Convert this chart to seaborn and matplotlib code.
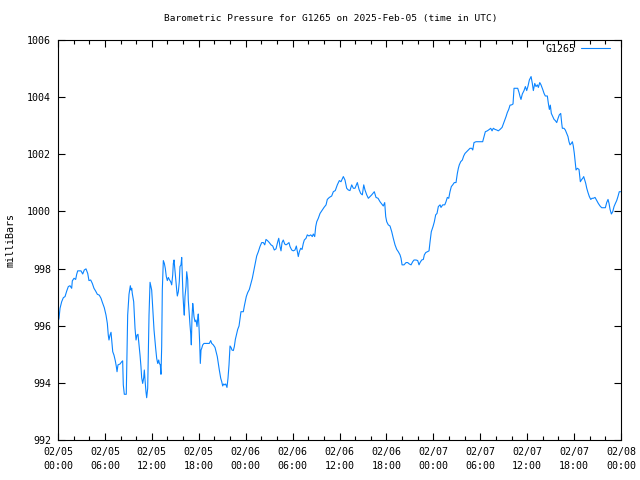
import matplotlib
matplotlib.use("Agg")
import matplotlib.pyplot as plt
import matplotlib.dates as mdates
import numpy as np
import pandas as pd
import seaborn as sns

# hours since 2025-02-05 00:00 UTC
hours = [
    0.04, 0.13, 0.26, 0.47, 0.68, 0.90, 1.11, 1.32, 1.53, 1.75, 1.83, 2.05, 2.26, 2.39, 2.52, 2.94,
    3.16, 3.36, 3.58, 3.80, 3.96, 4.18, 4.39, 4.60, 4.82, 5.03, 5.28, 5.50, 5.67, 5.92, 6.14, 6.31,
    6.43, 6.52, 6.65, 6.78, 6.87, 7.00, 7.16, 7.33, 7.46, 7.55, 7.67, 7.93, 8.15, 8.27, 8.35, 8.48,
    8.73, 8.82, 8.91, 9.08, 9.25, 9.34, 9.43, 9.50, 9.68, 9.76, 9.85, 9.98, 10.10, 10.23, 10.36,
    10.49, 10.61, 10.70, 10.83, 10.96, 11.04, 11.13, 11.25, 11.34, 11.47, 11.55, 11.64,
    11.77, 11.98, 12.11, 12.28, 12.49, 12.62, 12.75, 12.88, 12.96, 13.08, 13.17, 13.26, 13.34,
    13.47, 13.60, 13.72, 13.85, 13.98, 14.11, 14.23, 14.41, 14.54, 14.67, 14.75, 14.84, 14.93,
    15.05, 15.18, 15.26, 15.39, 15.51, 15.60, 15.73, 15.82, 15.90, 15.99, 16.08, 16.15, 16.24,
    16.37, 16.46, 16.59, 16.66, 16.79, 16.88, 16.97, 17.05, 17.14, 17.23, 17.30, 17.39, 17.52,
    17.65, 17.78, 17.87, 17.94, 18.03, 18.12, 18.20, 18.29, 18.38, 18.51, 18.67, 19.02, 19.35,
    19.53, 19.66, 19.86, 20.08, 20.21, 20.37, 20.50, 20.63, 20.81, 20.94, 21.06, 21.19, 21.32,
    21.45, 21.61, 21.74, 21.87, 22.00, 22.13, 22.25, 22.42, 22.55, 22.68, 22.85, 22.98, 23.15,
    23.28, 23.40, 23.70, 23.83, 23.95, 24.08, 24.26, 24.47,
    24.85, 24.97, 25.10, 25.28, 25.41, 25.62, 25.83, 26.05, 26.26, 26.44, 26.60, 26.82, 27.02,
    27.24, 27.46, 27.66, 27.88, 28.10, 28.23, 28.39, 28.52, 28.65, 28.81, 28.99, 29.16, 29.33,
    29.54, 29.67, 29.89, 30.09, 30.31, 30.48, 30.61, 30.73, 30.86, 31.04, 31.21, 31.37, 31.50,
    31.72, 31.88, 32.10, 32.32, 32.52, 32.65, 32.83, 32.96, 33.09, 33.29, 33.51, 33.76, 34.02,
    34.28, 34.44, 34.70, 35.00, 35.21, 35.46, 35.72, 35.98,
    36.19, 36.49, 36.70, 36.92, 37.13, 37.34, 37.56, 37.77, 37.98, 38.28, 38.50, 38.71, 38.92,
    39.10, 39.26, 39.48, 39.69, 39.90, 40.12, 40.45, 40.67, 40.93, 41.18, 41.40, 41.60, 41.78,
    41.91, 42.04, 42.24, 42.46, 42.68, 42.88, 43.10, 43.32, 43.52, 43.74, 43.87, 44.00, 44.25,
    44.51, 44.72, 44.93, 45.15, 45.36, 45.53, 45.79, 46.00, 46.17, 46.30, 46.51, 46.72, 46.85,
    47.03, 47.23, 47.45, 47.58, 47.74, 47.96, 48.13, 48.30, 48.47, 48.64, 48.86,
    48.98, 49.20, 49.46, 49.62, 49.79, 49.97, 50.13, 50.30, 50.48, 50.68, 50.90, 51.07, 51.20,
    51.32, 51.50, 51.71, 51.88, 52.05, 52.27, 52.47, 52.69, 52.91, 53.04, 53.20, 53.46, 53.75,
    54.06, 54.31, 54.48, 54.65, 54.90, 55.16, 55.34, 55.51, 55.67, 55.89, 56.11, 56.31, 56.53,
    56.79, 56.95, 57.13, 57.30, 57.46, 57.64, 57.81, 58.02, 58.19, 58.32, 58.57, 58.79, 58.96,
    59.09, 59.21, 59.38, 59.60, 59.77, 59.94, 60.11, 60.28,
    60.50, 60.66, 60.79, 60.97, 61.13, 61.30, 61.43, 61.61, 61.77, 61.99, 62.16, 62.32, 62.58,
    62.71, 62.84, 62.96, 63.09, 63.27, 63.44, 63.60, 63.78, 63.95, 64.11, 64.29, 64.42, 64.50,
    64.71, 64.88, 65.06, 65.22, 65.35, 65.48, 65.65, 65.78, 65.90, 66.03, 66.12, 66.25, 66.42,
    66.63, 66.80, 66.98, 67.11, 67.23, 67.36, 67.49, 67.62, 67.78, 67.95, 68.13, 68.30, 68.46,
    68.68, 68.90, 69.10, 69.32, 69.53, 69.83, 70.00, 70.17, 70.34, 70.47, 70.60, 70.77, 70.94,
    71.11, 71.28, 71.45, 71.61, 71.78, 71.96,
]

pressure = [
    996.17, 996.26, 996.61, 996.84, 996.98, 997.02, 997.21, 997.37, 997.40, 997.31, 997.57, 997.66, 997.62, 997.80, 997.92, 997.92,
    997.81, 997.95, 997.99, 997.83, 997.58, 997.60, 997.48, 997.31, 997.21, 997.10, 997.07, 996.96, 996.82, 996.63, 996.37, 996.08,
    995.67, 995.50, 995.67, 995.77, 995.50, 995.09, 994.97, 994.77, 994.57, 994.39, 994.63, 994.66, 994.74, 994.77, 993.93, 993.60,
    993.60, 994.92, 996.37, 997.10, 997.40, 997.25, 997.31, 997.13, 996.84, 996.43, 995.91, 995.50, 995.67, 995.70, 995.33,
    994.97, 994.57, 994.18, 993.98, 994.18, 994.45, 994.10, 993.69, 993.48, 993.81, 994.97, 996.37,
    997.52, 997.25, 996.67, 995.85, 995.21, 994.86, 994.68, 994.80, 994.68, 994.63, 994.30, 995.27, 997.25,
    998.28, 998.18, 998.01, 997.72, 997.58, 997.69, 997.62, 997.54, 997.43, 997.78, 998.18, 998.30, 998.01,
    997.66, 997.25, 997.04, 997.19, 997.54, 998.07, 998.13, 998.39, 997.72, 997.02, 996.61, 996.37, 997.02,
    997.37, 997.89, 997.60, 996.90, 996.37, 996.03, 995.73, 995.33, 996.32, 996.78, 996.61, 996.32, 996.14,
    996.20, 995.97, 996.26, 996.41, 995.97, 995.38, 994.68, 995.15, 995.21, 995.33, 995.38, 995.38, 995.38,
    995.48, 995.38, 995.33, 995.24, 995.09, 994.92, 994.68, 994.45, 994.16, 994.04, 993.89, 993.96, 993.93,
    993.96, 993.84, 994.16, 994.63, 995.29, 995.24, 995.15, 995.13, 995.27, 995.52, 995.71, 995.87, 995.99,
    996.26, 996.49, 996.49, 996.69, 996.84, 997.02, 997.16, 997.27,
    997.66, 997.83, 998.01, 998.28, 998.44, 998.59, 998.77, 998.91, 998.91, 998.83, 999.02, 998.97, 998.91,
    998.83, 998.79, 998.65, 998.69, 998.94, 999.06, 998.77, 998.62, 998.91, 999.00, 998.86, 998.83, 998.86,
    998.91, 998.77, 998.65, 998.62, 998.65, 998.79, 998.59, 998.42, 998.59, 998.71, 998.67, 998.88, 999.00,
    999.06, 999.18, 999.14, 999.18, 999.12, 999.21, 999.12, 999.47, 999.64, 999.76, 999.93, 1000.03, 1000.14,
    1000.23, 1000.42, 1000.49, 1000.54, 1000.69, 1000.73, 1000.93, 1001.08,
    1001.04, 1001.22, 1001.10, 1000.81, 1000.75, 1000.73, 1000.93, 1000.81, 1000.81, 1001.01, 1000.77, 1000.63, 1000.58,
    1000.93, 1000.75, 1000.58, 1000.46, 1000.52, 1000.58, 1000.69, 1000.49, 1000.46, 1000.34, 1000.26, 1000.19, 1000.31,
    999.82, 999.64, 999.53, 999.49, 999.29, 999.06, 998.83, 998.67, 998.59, 998.48, 998.36, 998.13, 998.13,
    998.21, 998.21, 998.16, 998.13, 998.24, 998.30, 998.30, 998.28, 998.13, 998.21, 998.30, 998.32, 998.48,
    998.56, 998.59, 998.62, 998.94, 999.29, 999.47, 999.64, 999.88, 999.93, 1000.17, 1000.23,
    1000.14, 1000.23, 1000.23, 1000.34, 1000.49, 1000.46, 1000.69, 1000.87, 1000.93, 1001.01, 1001.01, 1001.33, 1001.51,
    1001.63, 1001.74, 1001.80, 1001.94, 1002.03, 1002.09, 1002.15, 1002.21, 1002.21, 1002.15, 1002.41, 1002.44, 1002.44,
    1002.44, 1002.44, 1002.62, 1002.79, 1002.82, 1002.87, 1002.91, 1002.82, 1002.91, 1002.87, 1002.85, 1002.82, 1002.87,
    1002.94, 1003.06, 1003.20, 1003.32, 1003.46, 1003.57, 1003.72, 1003.73, 1003.76, 1004.31, 1004.31, 1004.31, 1004.16,
    1004.02, 1003.92, 1004.11, 1004.23, 1004.37, 1004.23, 1004.39, 1004.60,
    1004.72, 1004.48, 1004.23, 1004.48, 1004.37, 1004.43, 1004.34, 1004.51, 1004.43, 1004.27, 1004.13, 1004.04, 1004.04,
    1003.78, 1003.57, 1003.72, 1003.43, 1003.32, 1003.22, 1003.18, 1003.11, 1003.26, 1003.38, 1003.43, 1003.08, 1002.91,
    1002.91, 1002.85, 1002.73, 1002.62, 1002.44, 1002.33, 1002.38, 1002.44, 1002.29, 1002.03, 1001.80, 1001.45, 1001.51,
    1001.47, 1001.04, 1001.12, 1001.16, 1001.22, 1001.10, 1000.98, 1000.81, 1000.66, 1000.52, 1000.42, 1000.46, 1000.46,
    1000.49, 1000.38, 1000.28, 1000.19, 1000.13, 1000.13, 1000.13, 1000.31, 1000.42, 1000.28, 1000.07, 999.91, 999.99,
    1000.17, 1000.28, 1000.38, 1000.52, 1000.69, 1000.69,
]

station = "G1265"
title = "Barometric Pressure for G1265 on 2025-Feb-05 (time in UTC)"
ylabel = "milliBars"
y_ticks = [992, 994, 996, 998, 1000, 1002, 1004, 1006]

start = pd.Timestamp("2025-02-05 00:00")
df = pd.DataFrame({
    "time": start + pd.to_timedelta(hours, unit="h"),
    "pressure": pressure,
    "station": station,
})

sns.set_theme(style="white")
plt.rcParams["font.family"] = ["DejaVu Sans Mono"]
plt.rcParams["font.size"] = 7.2

fig = plt.figure(figsize=(6.4, 4.8), dpi=100)
ax = fig.add_axes([58 / 640, 1 - 440 / 480, 563 / 640, 400 / 480])

sns.lineplot(data=df, x="time", y="pressure", hue="station", palette=["#0a84ff"],
             estimator=None, sort=False, linewidth=0.8, ax=ax)

ax.set_xlim(start, start + pd.Timedelta(hours=72))
ax.set_ylim(992, 1006)
ax.set_yticks(y_ticks)
ax.set_yticklabels([str(v) for v in y_ticks])

ax.xaxis.set_major_locator(mdates.HourLocator(byhour=[0, 6, 12, 18]))
ax.xaxis.set_minor_locator(mdates.HourLocator(interval=2))
ax.xaxis.set_major_formatter(mdates.DateFormatter("%m/%d\n%H:%M"))

ax.tick_params(axis="both", which="major", direction="in", length=5, width=0.8,
               color="black", labelcolor="black", labelsize=7.2,
               top=True, right=True, bottom=True, left=True)
ax.tick_params(axis="x", which="major", pad=5)
ax.tick_params(axis="y", which="major", pad=5)
ax.tick_params(axis="x", which="minor", direction="in", length=3, width=0.8,
               color="black", top=True, bottom=True)
for lbl in ax.get_xticklabels():
    lbl.set_ha("center")
    lbl.set_linespacing(1.5)

for s in ax.spines.values():
    s.set_visible(True)
    s.set_color("black")
    s.set_linewidth(0.8)

ax.set_xlabel("")
ax.set_ylabel(ylabel, fontsize=7.2, color="black")
ax.yaxis.set_label_coords((16 - 58) / 563, 0.5)
fig.text(331 / 640, 1 - 19 / 480, title, ha="center", va="center", fontsize=6.8, color="black")

leg = ax.legend(loc="upper right", bbox_to_anchor=((610 - 58) / 563, (440 - 44) / 400),
                frameon=False, markerfirst=False, handlelength=2.9, borderpad=0,
                fontsize=7.2, borderaxespad=0, handletextpad=0.6)
for t in leg.get_texts():
    t.set_color("black")

fig.savefig("out.png", dpi=100)
